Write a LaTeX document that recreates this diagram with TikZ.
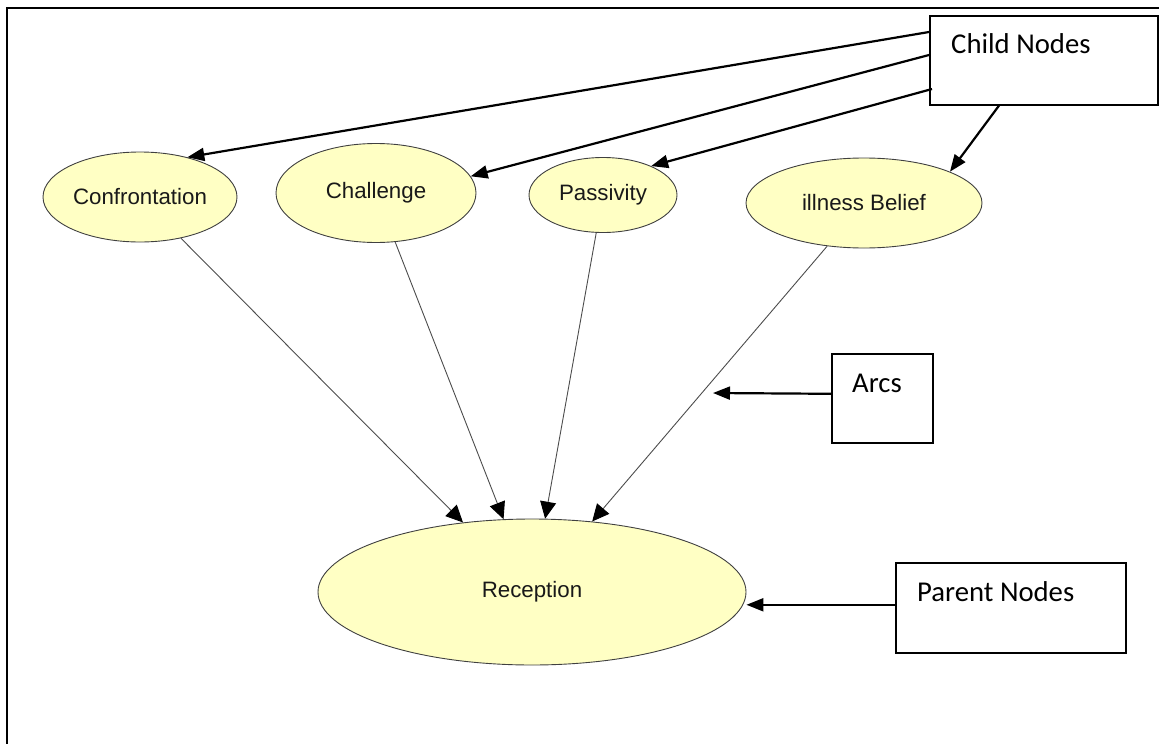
\documentclass[tikz,border=0pt]{standalone}
\usepackage{fontspec}
\setmainfont{Liberation Sans}
\newfontfamily\boxfont{Carlito}
\usetikzlibrary{shapes.geometric,arrows.meta,calc}
\definecolor{nodefill}{RGB}{255,255,196}
\begin{document}
\begin{tikzpicture}[x=1pt,y=-1pt,
  bnode/.style={ellipse, draw=black!75, line width=0.9pt, fill=nodefill,
    inner sep=0pt, text=black!90, font=\fontsize{22.3}{25}\selectfont},
  callbox/.style={draw=black, line width=1.6pt, fill=white, inner sep=0pt},
  boxlabel/.style={inner sep=0pt, anchor=base west, font=\boxfont\fontsize{28.7}{32}\selectfont},
  callout/.style={draw=black, line width=2.2pt, -{Triangle[length=17pt,width=13pt]}},
  arcline/.style={draw=black!70, line width=0.9pt, -{Triangle[length=17pt,width=16pt,color=black]}}
]
\useasboundingbox (0,0) rectangle (1159,744);
% outer frame
\draw[line width=2.2pt] (7,8) rectangle (1180,770);

% belief network
\node[bnode, minimum width=194pt, minimum height=90pt]  (conf) at (140,197) {Confrontation};
\node[bnode, minimum width=200pt, minimum height=99pt]  (chal) at (376,193) {Challenge};
\node[bnode, minimum width=148pt, minimum height=75pt]  (pass) at (603,195) {Passivity};
\node[bnode, minimum width=236pt, minimum height=90pt]  (ill)  at (864,203) {illness Belief};
\node[bnode, minimum width=428pt, minimum height=146pt] (rec)  at (532,592) {Reception};

\draw[arcline] (conf) -- (rec);
\draw[arcline] (chal) -- (rec);
\draw[arcline] (pass) -- (rec);
\draw[arcline] (ill)  -- (rec);

% annotation boxes
\node[callbox, minimum width=228pt, minimum height=89pt, anchor=north west] (cbox) at (929,15) {};
\node[boxlabel] (clab) at ($(cbox.north west)+(22,38.5)$) {Child Nodes};
\node[callbox, minimum width=101pt, minimum height=89pt, anchor=north west] (abox) at (831,353) {};
\node[boxlabel] (alab) at ($(abox.north west)+(21,39)$) {Arcs};
\node[callbox, minimum width=230pt, minimum height=90pt, anchor=north west] (pbox) at (895,562) {};
\node[boxlabel] (plab) at ($(pbox.north west)+(22,39)$) {Parent Nodes};

% annotation arrows
\draw[callout] ([yshift=-17pt]cbox.north west) -- (conf.40);
\draw[callout] ([yshift=-40pt]cbox.north west) -- (chal.10);
\draw[callout] ([yshift=-74pt,xshift=3pt]cbox.north west) -- (pass.31);
\draw[callout] ([xshift=70pt]cbox.south west) -- (ill.20);

\coordinate (arcpt) at (713,393);
\draw[callout] ([yshift=4.5pt]abox.west) -- (arcpt);
\draw[callout] ([yshift=3pt]pbox.west) -- ([yshift=3pt]pbox.west -| rec.east);
\end{tikzpicture}
\end{document}
